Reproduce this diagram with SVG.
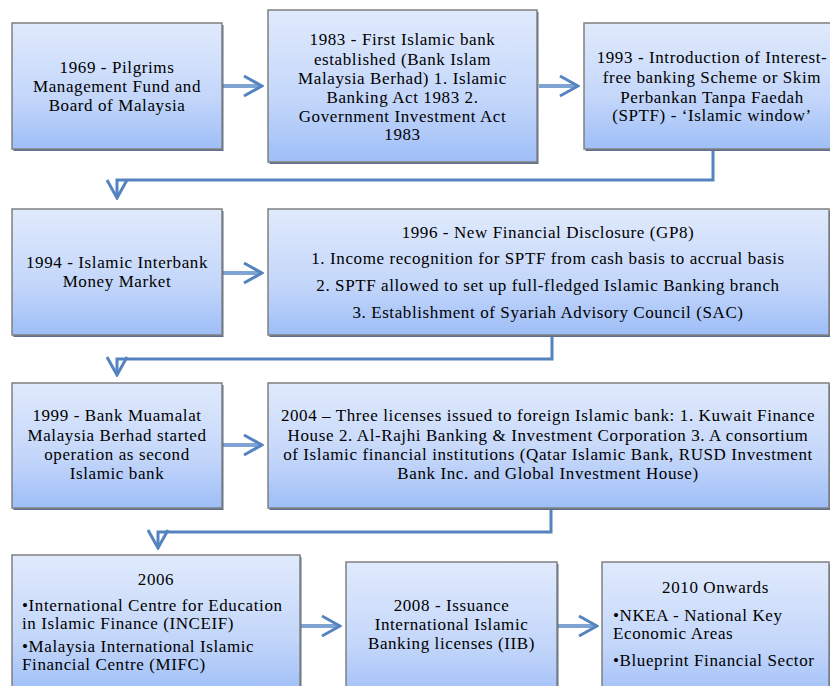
<svg xmlns="http://www.w3.org/2000/svg" width="830" height="686" viewBox="0 0 830 686">
<defs>
<linearGradient id="g" x1="0" y1="0" x2="0" y2="1">
<stop offset="0" stop-color="#e0eafc"/>
<stop offset="0.6" stop-color="#c3d6fa"/>
<stop offset="1" stop-color="#9ebef7"/>
</linearGradient>
<marker id="ah" viewBox="0 0 22 24" refX="20" refY="12" markerWidth="22" markerHeight="24" markerUnits="userSpaceOnUse" orient="auto">
<path d="M2 2 L20 12 L2 22" fill="none" stroke="#5583bf" stroke-width="3"/>
</marker>
<style>
.box{fill:url(#g);stroke:#808080;stroke-width:1.5}
.sh{fill:#5d6e8c}
.t text{font-size:17px;fill:#000;letter-spacing:0.6px}
.c{text-anchor:middle}
.arr{fill:none;stroke:#7fa3d3;stroke-width:4}
.ln{fill:none;stroke:#5583bf;stroke-width:3}
</style>
</defs>

<g id="connectors">
<line class="arr" x1="223" y1="86" x2="262" y2="86" marker-end="url(#ah)"/>
<line class="arr" x1="539" y1="86" x2="578" y2="86" marker-end="url(#ah)"/>
<polyline class="ln" points="713,150 713,180 117,180 117,198" marker-end="url(#ah)"/>
<line class="arr" x1="223" y1="273" x2="262" y2="273" marker-end="url(#ah)"/>
<polyline class="ln" points="552,336 552,359 117,359 117,375" marker-end="url(#ah)"/>
<line class="arr" x1="223" y1="445" x2="262" y2="445" marker-end="url(#ah)"/>
<polyline class="ln" points="551,509 551,532 158,532 158,548" marker-end="url(#ah)"/>
<line class="arr" x1="301" y1="626" x2="340" y2="626" marker-end="url(#ah)"/>
<line class="arr" x1="558" y1="626" x2="597" y2="626" marker-end="url(#ah)"/>
</g>

<g class="t" font-family="'Liberation Serif', 'Times New Roman', 'DejaVu Serif', serif">
<g id="n1969">
<rect class="sh" x="13.5" y="25" width="210" height="126"/>
<rect class="box" x="12" y="23" width="210" height="126"/>
<text class="c" x="117" y="73">1969 - Pilgrims</text>
<text class="c" x="117" y="92">Management Fund and</text>
<text class="c" x="117" y="111">Board of Malaysia</text>
</g>

<g id="n1983">
<rect class="sh" x="269.5" y="12" width="269" height="152"/>
<rect class="box" x="268" y="10" width="269" height="152"/>
<text class="c" x="402.5" y="45">1983 - First Islamic bank</text>
<text class="c" x="402.5" y="65">established (Bank Islam</text>
<text class="c" x="402.5" y="84">Malaysia Berhad) 1. Islamic</text>
<text class="c" x="402.5" y="103">Banking Act 1983 2.</text>
<text class="c" x="402.5" y="122">Government Investment Act</text>
<text class="c" x="402.5" y="140">1983</text>
</g>

<g id="n1993">
<rect class="sh" x="585.5" y="25" width="256" height="126"/>
<rect class="box" x="584" y="23" width="256" height="126"/>
<text class="c" x="712" y="63">1993 - Introduction of Interest-</text>
<text class="c" x="712" y="83">free banking Scheme or Skim</text>
<text class="c" x="712" y="103">Perbankan Tanpa Faedah</text>
<text class="c" x="712" y="121">(SPTF) - ‘Islamic window’</text>
</g>

<g id="n1994">
<rect class="sh" x="13.5" y="211" width="210" height="126"/>
<rect class="box" x="12" y="209" width="210" height="126"/>
<text class="c" x="117" y="268">1994 - Islamic Interbank</text>
<text class="c" x="117" y="287">Money Market</text>
</g>

<g id="n1996">
<rect class="sh" x="269.5" y="211" width="562" height="126"/>
<rect class="box" x="268" y="209" width="561" height="126"/>
<text class="c" x="548" y="238">1996 - New Financial Disclosure (GP8)</text>
<text class="c" x="548" y="264">1. Income recognition for SPTF from cash basis to accrual basis</text>
<text class="c" x="548" y="291">2. SPTF allowed to set up full-fledged Islamic Banking branch</text>
<text class="c" x="548" y="318">3. Establishment of Syariah Advisory Council (SAC)</text>
</g>

<g id="n1999">
<rect class="sh" x="13.5" y="385" width="210" height="125"/>
<rect class="box" x="12" y="383" width="210" height="125"/>
<text class="c" x="117" y="421">1999 - Bank Muamalat</text>
<text class="c" x="117" y="441">Malaysia Berhad started</text>
<text class="c" x="117" y="460">operation as second</text>
<text class="c" x="117" y="479">Islamic bank</text>
</g>

<g id="n2004">
<rect class="sh" x="269.5" y="385" width="562" height="125"/>
<rect class="box" x="268" y="383" width="561" height="125"/>
<text class="c" x="548" y="421">2004 – Three licenses issued to foreign Islamic bank: 1. Kuwait Finance</text>
<text class="c" x="548" y="441">House 2. Al-Rajhi Banking &amp; Investment Corporation 3. A consortium</text>
<text class="c" x="548" y="460">of Islamic financial institutions (Qatar Islamic Bank, RUSD Investment</text>
<text class="c" x="548" y="479">Bank Inc. and Global Investment House)</text>
</g>

<g id="n2006">
<rect class="sh" x="13.5" y="557" width="288" height="140"/>
<rect class="box" x="12" y="555" width="288" height="140"/>
<text class="c" x="156" y="585">2006</text>
<text x="22" y="611">•International Centre for Education</text>
<text x="22" y="629">in Islamic Finance (INCEIF)</text>
<text x="22" y="652">•Malaysia International Islamic</text>
<text x="22" y="670">Financial Centre (MIFC)</text>
</g>

<g id="n2008">
<rect class="sh" x="347.5" y="564" width="211" height="140"/>
<rect class="box" x="346" y="562" width="211" height="140"/>
<text class="c" x="451.5" y="611">2008 - Issuance</text>
<text class="c" x="451.5" y="630">International Islamic</text>
<text class="c" x="451.5" y="649">Banking licenses (IIB)</text>
</g>

<g id="n2010">
<rect class="sh" x="603.5" y="564" width="227" height="140"/>
<rect class="box" x="602" y="562" width="227" height="140"/>
<text class="c" x="715.5" y="593">2010 Onwards</text>
<text x="613" y="621">•NKEA - National Key</text>
<text x="613" y="639">Economic Areas</text>
<text x="613" y="666">•Blueprint Financial Sector</text>
</g>
</g>
</svg>
